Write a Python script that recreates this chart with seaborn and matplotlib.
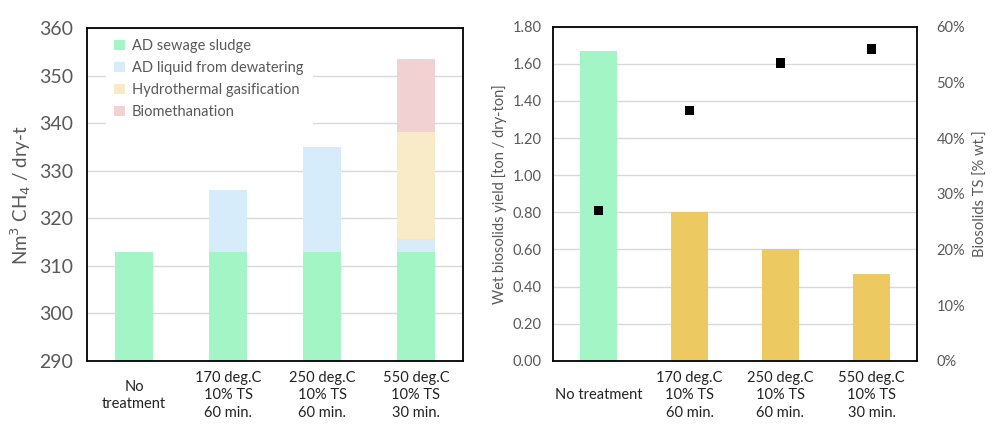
import numpy as np
import pandas as pd
import matplotlib
matplotlib.use("Agg")
import matplotlib.pyplot as plt
import seaborn as sns

# data
categories = ["No\ntreatment", "170 deg.C\n10% TS\n60 min.",
              "250 deg.C\n10% TS\n60 min.", "550 deg.C\n10% TS\n30 min."]
categories_r = ["No treatment", "170 deg.C\n10% TS\n60 min.",
                "250 deg.C\n10% TS\n60 min.", "550 deg.C\n10% TS\n30 min."]
segments = ["AD sewage sludge", "AD liquid from dewatering",
            "Hydrothermal gasification", "Biomethanation"]
sludge = [313, 313, 313, 313]
liquid = [0, 13, 22, 2.7]
gasification = [0, 0, 0, 22.5]
biomethanation = [0, 0, 0, 15.3]
seg_colors = ["#a3f5c6", "#d6ecfb", "#faebc8", "#f2d1d3"]

wet_yield = [1.67, 0.80, 0.60, 0.47]
biosolids_ts = [27, 45, 53.5, 56]
yield_colors = ["#a3f5c6", "#edc962", "#edc962", "#edc962"]

sns.set_style("white")
plt.rcParams["font.family"] = ["Lato", "DejaVu Sans"]
tick_gray = "#595959"

fig = plt.figure(figsize=(10, 4.3), dpi=100)
ax1 = fig.add_axes([0.087, 0.161, 0.376, 0.773])
ax2 = fig.add_axes([0.553, 0.161, 0.364, 0.777])


def style_xlabels(ax):
    ax.tick_params(axis="x", labelsize=10.5, length=0, pad=25)
    for lab in ax.get_xticklabels():
        lab.set_va("center")
        lab.set_linespacing(1.35)
        lab.set_color("#222222")


# left: stacked methane yield (draw cumulative totals from the top down)
stack = np.cumsum(np.array([sludge, liquid, gasification, biomethanation]), axis=0)
for i in range(len(segments) - 1, -1, -1):
    df = pd.DataFrame({"cat": categories, "val": stack[i]})
    sns.barplot(data=df, x="cat", y="val", color=seg_colors[i], width=0.4,
                saturation=1, ax=ax1, label=segments[i], zorder=2, linewidth=0)
ax1.set_ylim(290, 360)
ax1.set_xlim(-0.5, 3.5)
ax1.set_yticks(range(290, 361, 10))
ax1.grid(axis="y", color="#d9d9d9", lw=1, zorder=0)
ax1.set_axisbelow(True)
ax1.set_xlabel("")
ax1.set_ylabel("Nm$^3$ CH$_4$ / dry-t", fontsize=13.5, color=tick_gray, labelpad=4)
ax1.tick_params(axis="y", labelsize=14, colors=tick_gray, length=0, pad=10)
style_xlabels(ax1)
for s in ax1.spines.values():
    s.set_color("black")
    s.set_linewidth(1.3)
h, l = ax1.get_legend_handles_labels()
order = [l.index(s) for s in segments]
leg = ax1.legend([h[k] for k in order], [l[k] for k in order], loc="upper left",
                 bbox_to_anchor=(0.03, 1.015), frameon=True, fancybox=False,
                 edgecolor="white", framealpha=1, fontsize=10.5,
                 handlelength=0.7, handleheight=0.7, handletextpad=0.5,
                 labelspacing=0.55, borderpad=0.6)
for t in leg.get_texts():
    t.set_color(tick_gray)

# right: wet biosolids yield + TS on twin axis
df2 = pd.DataFrame({"cat": categories_r, "val": wet_yield})
sns.barplot(data=df2, x="cat", y="val", hue="cat", palette=yield_colors,
            width=0.4, saturation=1, legend=False, ax=ax2, zorder=2, linewidth=0)
ax2.set_ylim(0, 1.8)
ax2.set_xlim(-0.5, 3.5)
ax2.set_yticks(np.arange(0, 1.81, 0.2))
ax2.set_yticklabels([f"{v:.2f}" for v in np.arange(0, 1.81, 0.2)])
ax2.grid(axis="y", color="#d9d9d9", lw=1, zorder=0)
ax2.set_axisbelow(True)
ax2.set_xlabel("")
ax2.set_ylabel("Wet biosolids yield [ton / dry-ton]", fontsize=10.5,
               color=tick_gray, labelpad=4)
ax2.tick_params(axis="y", labelsize=10.5, colors=tick_gray, length=0, pad=8)
style_xlabels(ax2)
for s in ax2.spines.values():
    s.set_color("black")
    s.set_linewidth(1.3)

ax3 = ax2.twinx()
sns.scatterplot(x=list(range(4)), y=biosolids_ts, marker="s", color="black",
                s=45, ax=ax3, zorder=5, edgecolor="none")
ax3.set_ylim(0, 60)
ax3.set_yticks(range(0, 61, 10))
ax3.set_yticklabels([f"{v}%" for v in range(0, 61, 10)])
ax3.tick_params(axis="y", labelsize=10.5, colors=tick_gray, length=0, pad=14)
ax3.set_ylabel("Biosolids TS [% wt.]", fontsize=10.5, color=tick_gray, labelpad=6)
for s in ax3.spines.values():
    s.set_visible(False)

fig.savefig("out.png", dpi=100)
